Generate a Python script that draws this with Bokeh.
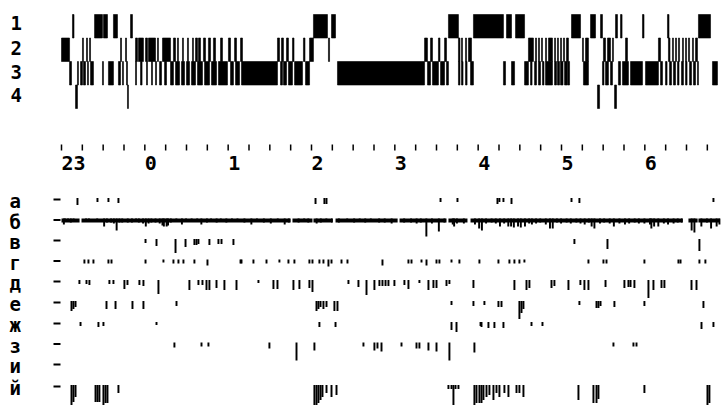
from bokeh.plotting import figure
from bokeh.models import Range1d
from bokeh.core.properties import value
from bokeh.embed import file_html
from bokeh.resources import INLINE

# ---------------- data (time in minutes after 23:00) ----------------
stage_labels = ["1", "2", "3", "4"]
hour_labels = ["23", "0", "1", "2", "3", "4", "5", "6"]
hour_minutes = [0, 60, 120, 180, 240, 300, 360, 420]
tick_minutes = list(range(0, 466, 15))
channel_labels = ["а", "б", "в", "г", "д", "е", "ж", "з", "и", "й"]

stage1_runs = [(7.9, 9.0), (23.8, 29.5), (30.2, 33.1), (37.4, 40.3), (49.7, 51.1),
               (181.4, 191.5), (194.4, 197.3), (278.6, 285.8), (296.6, 318.2),
               (320.4, 324.0), (326.9, 333.4), (367.2, 373.7), (380.9, 384.5),
               (388.1, 389.5), (398.9, 400.3), (402.5, 403.6), (418.3, 419.4),
               (436.3, 437.4), (458.6, 467.3)]
stage2_runs = [(0, 5.8), (15.1, 15.8), (18.0, 18.7), (20.2, 20.9), (42.5, 43.2), (46.1, 46.8),
               (53.3, 54.7), (55.4, 59.0), (60.5, 61.9), (62.6, 67.7), (69.1, 69.8), (72.7, 78.5),
               (80.6, 82.1), (83.5, 84.2), (87.1, 87.8), (90.7, 91.4), (94.3, 95.0), (96.5, 97.9),
               (98.6, 100.1), (102.2, 103.7), (105.8, 107.3), (109.4, 110.9), (114.5, 115.9),
               (120.2, 121.7), (124.6, 126.0), (128.9, 130.3), (155.5, 157.0), (158.4, 159.8),
               (162.0, 163.4), (166.3, 167.4), (174.2, 175.3), (178.6, 181.4), (192.2, 193.0),
               (261.4, 263.5), (265.7, 267.1), (271.4, 272.5), (275.8, 277.2), (285.8, 286.9),
               (288.0, 288.7), (290.9, 291.6), (293.0, 295.2), (336.2, 339.8), (341.3, 342.0),
               (343.4, 344.2), (345.6, 346.3), (348.5, 349.2), (350.6, 353.5), (355.0, 355.7),
               (357.1, 357.8), (359.3, 360.0), (361.4, 362.2), (363.6, 365.0), (375.1, 375.8),
               (377.3, 379.4), (390.2, 391.7), (393.1, 395.3), (396.7, 397.4), (406.1, 407.5),
               (429.8, 431.3), (437.0, 438.1), (439.9, 440.6), (442.1, 442.8), (444.2, 445.0),
               (447.1, 447.8), (449.3, 450.0), (451.4, 452.2), (454.3, 455.0), (456.5, 457.9)]
stage3_runs = [(5.8, 7.2), (11.5, 12.2), (13.7, 15.1), (15.8, 17.3), (18.7, 19.4), (20.9, 23.0),
               (29.5, 30.2), (33.8, 37.4), (41.0, 42.5), (43.9, 44.6), (46.8, 47.5),
               (53.3, 54.0), (56.9, 58.0), (61.2, 61.9), (64.8, 65.5), (67.7, 68.4), (70.6, 72.0),
               (74.2, 75.6), (78.5, 80.6), (82.1, 85.0), (86.4, 88.6), (90.0, 92.2), (93.6, 96.5),
               (97.9, 101.5), (103.0, 106.6), (108.0, 111.6), (113.0, 119.5), (121.7, 123.8),
               (125.3, 128.2), (129.6, 155.5), (157.7, 159.1), (159.8, 162.0), (163.4, 166.3),
               (167.8, 173.5), (175.7, 178.6), (198.7, 261.4), (263.5, 265.7), (267.1, 271.4),
               (272.9, 275.8), (277.2, 278.6), (285.8, 286.9), (288.0, 289.1), (290.9, 292.0),
               (294.5, 296.6), (318.2, 319.7), (324.0, 326.2), (333.4, 336.2), (337.7, 338.8),
               (340.6, 342.0), (343.4, 344.9), (346.3, 347.4), (348.5, 353.5), (355.0, 356.4),
               (357.1, 358.6), (359.3, 361.1), (362.2, 364.0), (364.3, 365.8), (375.8, 379.4),
               (389.5, 390.6), (391.7, 393.8), (395.3, 396.7), (401.0, 402.5), (403.9, 408.2),
               (409.7, 418.3), (420.5, 429.8), (431.3, 432.7), (434.9, 436.0), (437.8, 439.2),
               (440.6, 442.1), (443.5, 444.6), (446.4, 447.8), (449.3, 450.4), (452.2, 453.6),
               (455.0, 456.5), (457.9, 458.6), (468.7, 472.3)]
stage4_runs = [(10.1, 11.5), (47.5, 48.2), (385.9, 387.4), (398.2, 399.6)]

# event channels: onset time (min) and amplitude (px-like units)
a_t = [10.8, 25.2, 33.1, 40.3, 182.2, 188.6, 190.1, 272.2, 284.4, 313.2, 314.6, 317.5, 323.3, 366.5, 372.2, 468.7]
a_v = [7, 4, 4, 5, 6, 6, 6, 4, 4, 6, 4, 4, 6, 4, 5, 4]

b_base = [(0, 13), (14.4, 165), (166.3, 180.7), (181.4, 195), (197.3, 242), (243.4, 277.2),
          (278.6, 292.3), (294.5, 447), (451.4, 458), (458.6, 474)]
b_t = [1, 2, 4, 6, 8, 17, 19, 25, 30, 32, 35, 37, 39, 41, 43, 47, 50, 53, 55, 58, 60, 62, 64, 67,
       70, 72, 73, 75, 76, 78, 82, 86, 89, 93, 97, 100, 104, 107, 111, 114, 118, 122, 126,
       131, 136, 140, 145, 150, 155, 160, 163, 170, 174, 177, 183, 186, 190, 194, 199, 205, 210,
       214, 218, 222, 228, 232, 237, 246, 251, 255, 258, 262, 266, 271, 275, 281, 282, 284, 289,
       297, 300, 302, 305, 309, 312, 315, 318, 321, 323, 325, 328, 330, 333, 336, 338, 341, 344,
       348, 351, 353, 356, 359, 363, 366, 370, 373, 376, 379, 381, 383, 387, 390, 394, 397, 401,
       405, 408, 412, 415, 419, 423, 424, 426, 429, 433, 436, 440, 443, 446, 453, 455, 460, 464,
       467, 471, 473]
b_v = [6, 3, 3, 4, 3, 3, 3, 3, 8, 4, 4, 5, 12, 4, 4, 4, 4, 3, 4, 5, 8, 5, 4, 4,
       5, 7, 8, 8, 7, 4, 3, 6, 3, 3, 3, 6, 4, 3, 4, 3, 4, 3, 3,
       4, 6, 3, 4, 5, 3, 6, 4, 4, 3, 4, 5, 4, 3, 4, 4, 3, 4,
       3, 4, 3, 4, 4, 5, 4, 4, 5, 4, 18, 5, 13, 4, 6, 8, 5, 5,
       6, 10, 12, 5, 4, 5, 8, 5, 8, 8, 9, 8, 9, 8, 5, 6, 5, 4,
       6, 10, 10, 4, 5, 4, 5, 4, 5, 6, 4, 8, 10, 5, 4, 5, 8, 5,
       6, 5, 4, 5, 5, 6, 10, 8, 8, 5, 6, 5, 4, 4, 12, 14, 8, 4,
       10, 8, 6]

v_t = [59.8, 67.7, 81.4, 88.6, 95.0, 96.5, 97.9, 105.8, 112.3, 114.5, 123.1, 368.6, 392.4, 458.6]
v_v = [4, 7, 14, 8, 6, 6, 5, 6, 5, 5, 6, 5, 10, 12]

g_t = [15.8, 18.7, 22.3, 33.1, 35.3, 59.8, 72.7, 79.9, 83.5, 87.1, 95.0, 104.4, 128.2, 128.9,
       137.5, 146.9, 156.2, 162.7, 167.0, 177.8, 180.0, 185.0, 187.9, 191.5, 193.7, 200.9,
       205.2, 230.4, 249.1, 251.3, 258.5, 262.1, 269.3, 271.4, 280.1, 285.8, 300.2, 313.9,
       321.8, 325.4, 329.0, 332.6, 378.7, 389.5, 391.7, 419.0, 443.5, 445.0, 458.6, 462.9]
g_v = [4, 4, 4, 4, 4, 4, 3, 4, 4, 4, 4, 6, 4, 4,
       4, 4, 3, 4, 4, 4, 4, 4, 4, 7, 4, 4,
       4, 6, 4, 4, 3, 6, 4, 4, 3, 4, 4, 4,
       4, 4, 4, 3, 4, 4, 4, 4, 4, 4, 4, 4]

d_t = [12.2, 17.3, 19.4, 33.8, 36.7, 44.6, 46.8, 55.4, 58.3, 69.1, 91.4, 97.9, 100.8, 103.7,
       105.8, 110.9, 116.6, 125.3, 141.1, 151.9, 154.8, 166.3, 170.6, 177.8, 180.0, 205.9,
       213.1, 218.9, 224.6, 228.2, 230.4, 232.6, 234.7, 239.0, 246.2, 249.1, 257.0, 263.5,
       267.1, 269.3, 276.5, 278.6, 295.9, 325.4, 334.1, 336.2, 352.1, 354.2, 364.3, 372.9,
       375.8, 378.7, 391.0, 404.6, 407.5, 409.0, 411.8, 421.9, 425.5, 431.3, 433.4, 452.9, 456.5]
d_v = [4, 4, 5, 4, 4, 9, 5, 5, 6, 14, 10, 5, 5, 10,
       10, 8, 10, 10, 3, 9, 9, 10, 9, 8, 12, 4,
       7, 15, 10, 6, 6, 6, 6, 6, 5, 9, 3, 10,
       8, 8, 6, 4, 8, 10, 10, 8, 8, 6, 10, 5,
       10, 10, 7, 8, 7, 7, 8, 18, 10, 8, 8, 10, 10]

e_t = [6.5, 7.9, 9.4, 31.7, 38.2, 50.4, 58.3, 82.1, 182.9, 184.3, 185.8, 187.9, 190.1, 195.8,
       198.0, 280.1, 295.9, 303.8, 313.9, 316.1, 329.0, 330.5, 331.9, 372.2, 384.5, 385.9,
       387.4, 397.4, 419.0, 461.5]
e_v = [10, 8, 6, 8, 8, 8, 8, 5, 10, 8, 6, 8, 6, 10,
       10, 4, 5, 4, 6, 6, 18, 12, 8, 4, 7, 7,
       5, 6, 5, 7]

zh_t = [13.0, 25.9, 29.5, 67.7, 185.0, 196.6, 280.1, 283.7, 301.0, 301.7, 306.7, 311.0, 317.5,
        337.7, 345.6, 460.1, 468.7]
zh_v = [4, 5, 4, 3, 5, 5, 8, 10, 4, 5, 6, 6, 6, 4, 4, 7, 5]

z_t = [80.6, 100.1, 105.1, 149.0, 168.5, 181.4, 216.7, 224.6, 226.8, 229.7, 244.1, 254.9,
       257.0, 263.5, 269.3, 278.6, 296.6, 396.7, 411.1, 413.3]
z_v = [5, 4, 4, 6, 18, 8, 4, 8, 6, 9, 4, 6, 6, 8, 9, 18, 10, 4, 4, 4]

i_t = []
i_v = []

j_t = [6.5, 7.9, 9.4, 23.8, 25.2, 26.6, 29.5, 31.0, 32.4, 40.3, 181.4, 182.9, 184.3, 185.8,
       187.2, 190.1, 193.7, 197.3, 277.9, 280.1, 281.5, 283.0, 285.1, 296.6, 298.1, 300.2,
       301.7, 303.1, 305.3, 307.4, 310.3, 312.5, 314.6, 318.2, 321.1, 326.9, 329.0, 331.9,
       371.5, 382.3, 384.5, 385.9, 419.0, 464.4, 465.8]
j_v = [20, 17, 12, 17, 17, 17, 20, 18, 18, 8, 20, 20, 18, 15,
       12, 8, 12, 10, 4, 4, 20, 4, 4, 20, 18, 18,
       18, 15, 12, 10, 15, 8, 12, 8, 12, 8, 8, 12,
       15, 18, 18, 14, 8, 20, 18]

channels_t = [a_t, b_t, v_t, g_t, d_t, e_t, zh_t, z_t, i_t, j_t]
channels_v = [a_v, b_v, v_v, g_v, d_v, e_v, zh_v, z_v, i_v, j_v]

# ---------------- layout / style ----------------
W, H = 722, 406
PX = 0.72                      # minutes per screen pixel
X0 = -61 * PX                  # left edge of frame
FONT = value("DejaVu Sans Mono")
BLACK = "#000000"

def sx(px):                    # screen-x -> data x
    return X0 + px * PX

p = figure(width=W, height=H, x_range=Range1d(X0, X0 + W * PX), y_range=Range1d(H, 0),
           output_backend="svg", toolbar_location=None, min_border=0)
p.axis.visible = False
p.grid.visible = False
p.outline_line_color = None
p.background_fill_color = "white"
p.border_fill_color = "white"

# hypnogram
band_top = [14, 37.5, 61, 84.5]
band_h = 23.5
for k, runs in enumerate([stage1_runs, stage2_runs, stage3_runs, stage4_runs]):
    p.quad(left=[r[0] for r in runs], right=[r[1] for r in runs],
           top=[band_top[k]] * len(runs), bottom=[band_top[k] + band_h] * len(runs),
           fill_color=BLACK, line_color=BLACK, line_width=0.6)
p.text(x=[sx(10)] * 4, y=[22, 47, 71, 94], text=stage_labels,
       text_font=FONT, text_font_style="bold", text_font_size="19px",
       text_baseline="alphabetic", text_align="left", text_color=BLACK)

# time scale
p.segment(x0=tick_minutes, y0=[144] * len(tick_minutes), x1=tick_minutes, y1=[150] * len(tick_minutes),
          line_color=BLACK, line_width=1.5)
p.text(x=hour_minutes, y=[162] * len(hour_minutes), text=hour_labels,
       text_font=FONT, text_font_style="bold", text_font_size="20px",
       text_baseline="alphabetic", text_align="left", text_color=BLACK)

# event channels
row_y = [199, 219.5, 240, 260.5, 281, 302, 323, 343.5, 364, 386]
p.text(x=[sx(9)] * len(channel_labels), y=[y + 1.5 for y in row_y], text=channel_labels,
       text_font=FONT, text_font_style="bold", text_font_size="19px",
       text_baseline="alphabetic", text_align="left", text_color=BLACK)
p.segment(x0=[sx(53)] * len(row_y), y0=row_y, x1=[sx(60)] * len(row_y), y1=row_y,
          line_color=BLACK, line_width=2)
# continuous channel б baseline
p.quad(left=[s[0] for s in b_base], right=[s[1] for s in b_base],
       top=[row_y[1] - 1.5] * len(b_base), bottom=[row_y[1] + 2.5] * len(b_base),
       fill_color=BLACK, line_color=None)
for y, ts, vs in zip(row_y, channels_t, channels_v):
    if not ts:
        continue
    p.quad(left=ts, right=[t + 1.4 for t in ts], top=[y - 1.5] * len(ts),
           bottom=[y - 1.5 + v for v in vs], fill_color=BLACK, line_color=None)

open("out.html", "w").write(file_html(p, INLINE))
